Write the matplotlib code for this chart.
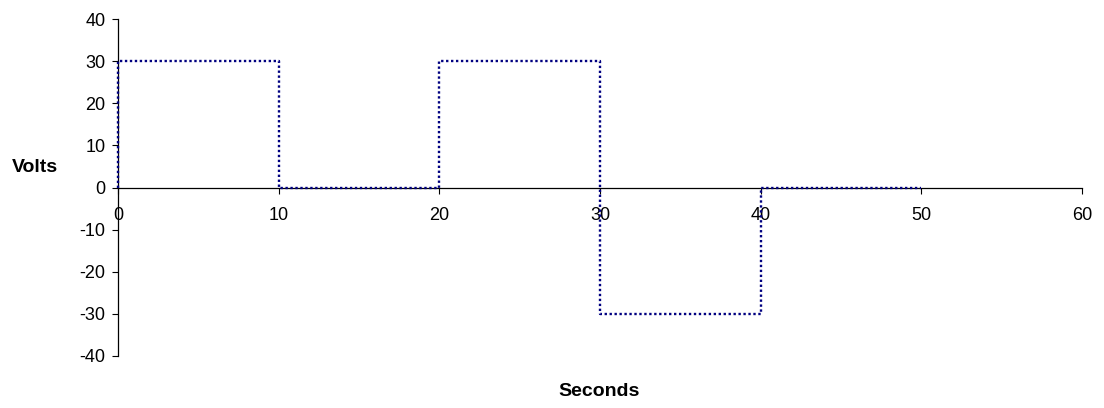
import matplotlib
matplotlib.use("Agg")
import matplotlib.pyplot as plt

plt.rcParams['font.family'] = ['Liberation Sans', 'DejaVu Sans']
plt.rcParams['axes.unicode_minus'] = False

seconds = [0, 0, 10, 10, 20, 20, 30, 30, 40, 40, 50]
volts = [0, 30, 30, 0, 0, 30, 30, -30, -30, 0, 0]
x_ticks = [0, 10, 20, 30, 40, 50, 60]
y_ticks = [-40, -30, -20, -10, 0, 10, 20, 30, 40]

W, H = 1104, 408
fig = plt.figure(figsize=(W / 100, H / 100), dpi=100)
ax = fig.add_axes([118 / W, 1 - 356 / H, (1082 - 118) / W, (356 - 19) / H])

ax.plot(seconds, volts, color='#000080', lw=1.7, linestyle=(0, (1, 1.1)),
        dash_capstyle='butt', clip_on=False, zorder=3)

ax.set_xlim(0, 60)
ax.set_ylim(-40, 40)
ax.set_xticks(x_ticks)
ax.set_yticks(y_ticks)

ax.spines['top'].set_visible(False)
ax.spines['right'].set_visible(False)
ax.spines['bottom'].set_position(('data', 0))
ax.spines['left'].set_position(('data', 0))
for s in ('bottom', 'left'):
    ax.spines[s].set_color('black')
    ax.spines[s].set_linewidth(0.9)

ax.tick_params(axis='x', direction='out', length=4, width=0.8, pad=10, labelsize=13, colors='black')
ax.tick_params(axis='y', direction='out', length=4, width=0.8, pad=5, labelsize=13, colors='black')

fig.text(35 / W, 1 - 168 / H, 'Volts', ha='center', va='center', fontsize=14, fontweight='bold')
fig.text(599 / W, 1 - 392 / H, 'Seconds', ha='center', va='center', fontsize=14, fontweight='bold')

fig.savefig('out.png', dpi=100)
